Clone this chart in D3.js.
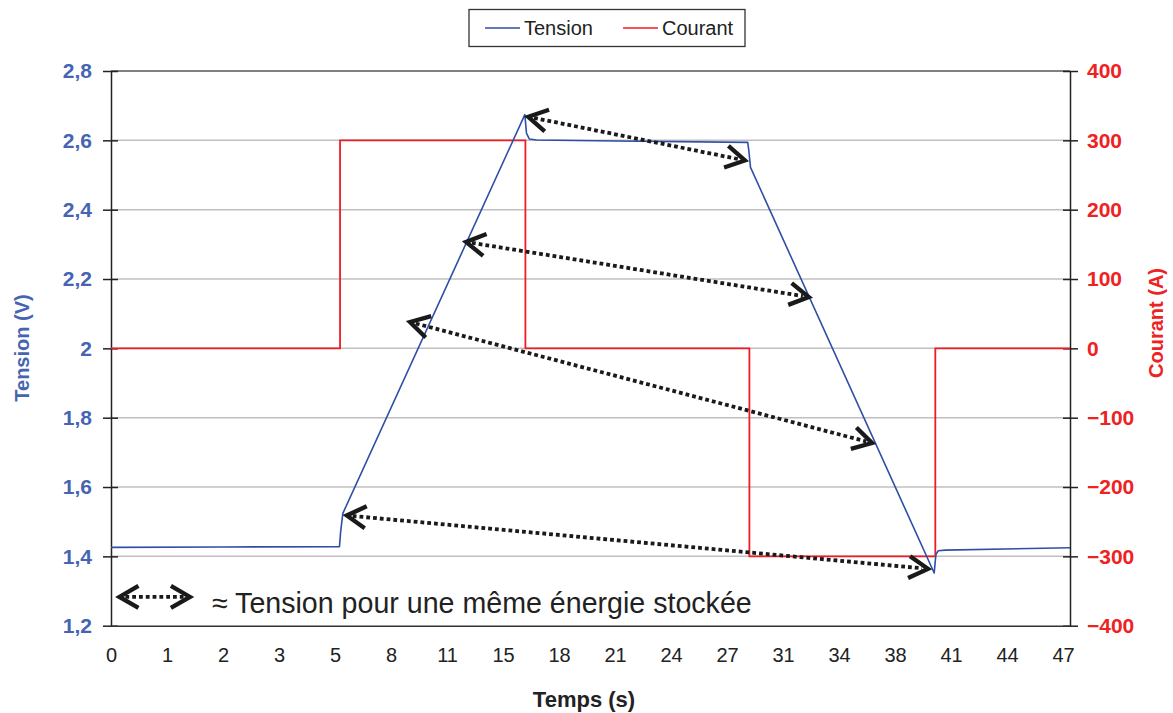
<!DOCTYPE html>
<html><head><meta charset="utf-8">
<script src="https://cdn.jsdelivr.net/npm/d3@7"></script>
<style>body{margin:0;background:#fff;}svg{display:block;font-family:"Liberation Sans",Arial,sans-serif;}</style>
</head><body>
<svg id="chart" width="1173" height="713"></svg>
<script>
// Category tick labels of the time axis (evenly spaced positions)
const timeLabels = ["0","1","2","3","5","8","11","15","18","21","24","27","31","34","38","41","44","47"];
// Tension series: position along category axis, volts
const tensionPos = [0, 2, 4.08, 4.10, 4.14, 7.39, 7.42, 7.47, 7.6, 9, 11.37, 11.39, 11.42, 14.70, 14.73, 14.77, 14.9, 17.125];
const tensionV   = [1.426, 1.427, 1.428, 1.47, 1.524, 2.674, 2.62, 2.604, 2.601, 2.598, 2.594, 2.57, 2.522, 1.352, 1.405, 1.416, 1.418, 1.425];
// Courant series (step changes)
const courantPos = [0, 4.09, 4.09, 7.40, 7.40, 11.40, 11.40, 14.72, 14.72, 17.125];
const courantA   = [0, 0, 300, 300, 0, 0, -300, -300, 0, 0];
// Annotation double arrows (pos, V) pairs
const arrowStart = [[7.45, 2.668], [6.34, 2.307], [5.34, 2.076], [4.21, 1.518]];
const arrowEnd   = [[11.32, 2.542], [12.46, 2.148], [13.59, 1.727], [14.59, 1.364]];
const keyArrow   = [[0.15, 1.283], [1.41, 1.283]];
const leftTicks  = [1.2, 1.4, 1.6, 1.8, 2.0, 2.2, 2.4, 2.6, 2.8];
const rightTicks = [-400, -300, -200, -100, 0, 100, 200, 300, 400];
const legendItems = ["Tension", "Courant"];
const noteText = "≈ Tension pour une même énergie stockée";

const svg = d3.select("#chart");
const L = 111, R = 1070, T = 71, B = 625.7;
const blueLine = "#2f4fa6", blueText = "#4565b2", redLine = "#ee1c25", redText = "#ee2222";

const x = d3.scaleLinear().domain([0, 17.125]).range([L, R]);
const yL = d3.scaleLinear().domain([1.2, 2.8]).range([B, T]);
const yR = d3.scaleLinear().domain([-400, 400]).range([B, T]);

// gridlines
svg.append("g").selectAll("line").data(leftTicks.slice(1, -1)).join("line")
  .attr("x1", L).attr("x2", R).attr("y1", d => yL(d)).attr("y2", d => yL(d))
  .attr("stroke", "#c0c0c0").attr("stroke-width", 1.5);
svg.append("line").attr("x1", L).attr("x2", R).attr("y1", T).attr("y2", T)
  .attr("stroke", "#808080").attr("stroke-width", 2);

// axes
const fmt = d => (Math.round(d * 10) / 10).toString().replace(".", ",");
const gL = svg.append("g").attr("transform", `translate(${L},0)`)
  .call(d3.axisLeft(yL).tickValues(leftTicks).tickFormat(fmt).tickSizeInner(8).tickSizeOuter(0).tickPadding(11));
gL.selectAll(".tick line").attr("x2", 7).attr("x1", -8).attr("stroke", "#222").attr("stroke-width", 1.5);
gL.select(".domain").attr("stroke", "#222").attr("stroke-width", 1.5);
gL.selectAll("text").attr("fill", blueText).attr("font-size", 21).attr("font-weight", "bold")
  .attr("font-family", "Liberation Sans, Arial, sans-serif").attr("x", -19);

const gR = svg.append("g").attr("transform", `translate(${R},0)`)
  .call(d3.axisRight(yR).tickValues(rightTicks).tickSizeInner(8).tickSizeOuter(0).tickPadding(11));
gR.selectAll(".tick line").attr("x1", -7).attr("x2", 8).attr("stroke", "#222").attr("stroke-width", 1.5);
gR.select(".domain").attr("stroke", "#222").attr("stroke-width", 1.5);
gR.selectAll("text").attr("fill", redText).attr("font-size", 21).attr("font-weight", "bold")
  .attr("font-family", "Liberation Sans, Arial, sans-serif").attr("x", 17).attr("text-anchor", "start");

const gB = svg.append("g").attr("transform", `translate(0,${B})`)
  .call(d3.axisBottom(x).tickValues(d3.range(timeLabels.length)).tickFormat(i => timeLabels[i]).tickSize(0).tickPadding(22));
gB.select(".domain").attr("stroke", "#333").attr("stroke-width", 1.5);
gB.selectAll("text").attr("fill", "#222").attr("font-size", 20).attr("font-family", "Liberation Sans, Arial, sans-serif");

// axis titles
svg.append("text").attr("x", 584).attr("y", 707).attr("text-anchor", "middle")
  .attr("font-size", 22).attr("font-weight", "bold").attr("fill", "#222").text("Temps (s)");
svg.append("text").attr("transform", `translate(29,348) rotate(-90)`).attr("text-anchor", "middle")
  .attr("font-size", 20).attr("font-weight", "bold").attr("fill", blueText).text("Tension (V)");
svg.append("text").attr("transform", `translate(1163,323) rotate(-90)`).attr("text-anchor", "middle")
  .attr("font-size", 20).attr("font-weight", "bold").attr("fill", redText).text("Courant (A)");

// series
const courantData = courantPos.map((p, i) => [p, courantA[i]]);
svg.append("path").datum(courantData)
  .attr("d", d3.line().x(d => x(d[0])).y(d => yR(d[1])))
  .attr("fill", "none").attr("stroke", redLine).attr("stroke-width", 1.8);
const tensionData = tensionPos.map((p, i) => [p, tensionV[i]]);
svg.append("path").datum(tensionData)
  .attr("d", d3.line().x(d => x(d[0])).y(d => yL(d[1])))
  .attr("fill", "none").attr("stroke", blueLine).attr("stroke-width", 1.6).attr("stroke-linejoin", "round");

// double arrows
function dblArrow(p1, p2) {
  const g = svg.append("g");
  const dx = p2[0] - p1[0], dy = p2[1] - p1[1];
  const len = Math.hypot(dx, dy), ux = dx / len, uy = dy / len;
  g.append("line").attr("x1", p1[0] + ux * 6).attr("y1", p1[1] + uy * 6)
    .attr("x2", p2[0] - ux * 6).attr("y2", p2[1] - uy * 6)
    .attr("stroke", "#1a1a1a").attr("stroke-width", 3.8).attr("stroke-dasharray", "3.8,3");
  const head = (tip, dir) => {
    const a = Math.PI / 6, l = 22;
    const bx = dir[0], by = dir[1];
    const r1 = [bx * Math.cos(a) - by * Math.sin(a), bx * Math.sin(a) + by * Math.cos(a)];
    const r2 = [bx * Math.cos(-a) - by * Math.sin(-a), bx * Math.sin(-a) + by * Math.cos(-a)];
    g.append("path").attr("d", `M${tip[0] + r1[0] * l},${tip[1] + r1[1] * l}L${tip[0]},${tip[1]}L${tip[0] + r2[0] * l},${tip[1] + r2[1] * l}`)
      .attr("fill", "none").attr("stroke", "#1a1a1a").attr("stroke-width", 4.3);
  };
  head(p1, [ux, uy]);
  head(p2, [-ux, -uy]);
}
arrowStart.forEach((s, i) => {
  dblArrow([x(s[0]), yL(s[1])], [x(arrowEnd[i][0]), yL(arrowEnd[i][1])]);
});
dblArrow([x(keyArrow[0][0]), yL(keyArrow[0][1])], [x(keyArrow[1][0]), yL(keyArrow[1][1])]);
svg.append("text").attr("x", 212).attr("y", 613).attr("font-size", 28.6).attr("fill", "#222").text(noteText);

// legend
const leg = svg.append("g");
leg.append("rect").attr("x", 469).attr("y", 9.5).attr("width", 276).attr("height", 37)
  .attr("fill", "#fff").attr("stroke", "#333").attr("stroke-width", 1.3);
const legColors = [blueLine, redLine], legX = [485, 623];
legendItems.forEach((t, i) => {
  leg.append("line").attr("x1", legX[i]).attr("x2", legX[i] + 35).attr("y1", 28).attr("y2", 28)
    .attr("stroke", legColors[i]).attr("stroke-width", 1.6);
  leg.append("text").attr("x", legX[i] + 39).attr("y", 35).attr("font-size", 20).attr("fill", "#222").text(t);
});
</script>
</body></html>
